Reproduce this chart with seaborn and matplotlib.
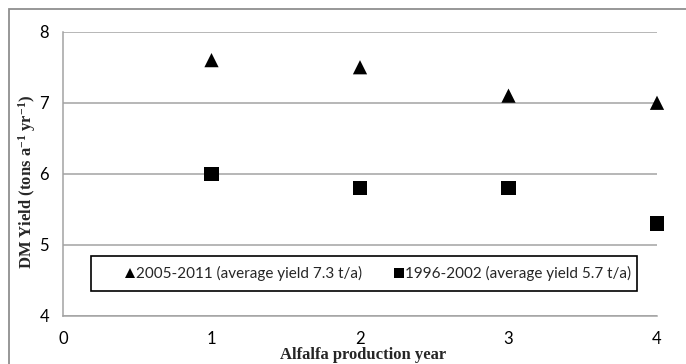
import pandas as pd
import matplotlib
matplotlib.use('Agg')
import matplotlib.pyplot as plt
from matplotlib.patches import Rectangle
import seaborn as sns

# values
years = [1, 2, 3, 4]
yield_recent = [7.6, 7.5, 7.1, 7.0]
yield_older = [6.0, 5.8, 5.8, 5.3]
series_names = ['2005-2011 (average yield 7.3 t/a)',
                '1996-2002 (average yield 5.7 t/a)']
x_ticks = [0, 1, 2, 3, 4]
y_ticks = [4, 5, 6, 7, 8]

df = pd.DataFrame({
    'year': years + years,
    'yield': yield_recent + yield_older,
    'series': [series_names[0]] * len(years) + [series_names[1]] * len(years),
})

sns.set_style('white')
plt.rcParams['font.family'] = ['Lato', 'DejaVu Sans']
plt.rcParams['mathtext.fontset'] = 'custom'
plt.rcParams['mathtext.rm'] = 'Liberation Serif:bold'
plt.rcParams['mathtext.it'] = 'Liberation Serif:bold'
plt.rcParams['mathtext.bf'] = 'Liberation Serif:bold'
plt.rcParams['axes.unicode_minus'] = False

W, H = 686, 364
fig = plt.figure(figsize=(W / 100, H / 100), dpi=100)
ax = fig.add_axes([63 / W, 1 - 316 / H, (657 - 63) / W, (316 - 31.7) / H])

grey = '#a3a3a3'
ax.set_axisbelow(True)
ax.yaxis.grid(True, color=grey, linewidth=1.1)

sns.scatterplot(data=df, x='year', y='yield', style='series',
                markers={series_names[0]: '^', series_names[1]: 's'},
                color='black', s=105, edgecolor='black', linewidth=0,
                clip_on=False, zorder=3, ax=ax)

ax.set_xlim(0, 4)
ax.set_ylim(4, 8)
ax.set_xticks(x_ticks)
ax.set_yticks(y_ticks)
for s in ['top', 'right']:
    ax.spines[s].set_visible(False)
for s in ['left', 'bottom']:
    ax.spines[s].set_color(grey)
    ax.spines[s].set_linewidth(1.1)
ax.tick_params(axis='both', colors=grey, labelcolor='black', labelsize=12,
               direction='out', length=4, width=1.1)
ax.tick_params(axis='y', pad=6)
ax.tick_params(axis='x', pad=7)

ax.set_xlabel('')
ax.set_ylabel('')
fig.text(363 / W, 1 - 355 / H, 'Alfalfa production year', family='Liberation Serif',
         weight='bold', fontsize=12, ha='center', va='center')
fig.text(27 / W, 1 - 182 / H, 'DM Yield (tons a$^{-1}$ yr$^{-1}$)', family='Liberation Serif',
         weight='bold', fontsize=12, ha='center', va='center', rotation=90)

# legend
handles, labels = ax.get_legend_handles_labels()
ax.get_legend().remove()
ax.legend(handles, labels, ncol=2, frameon=False, loc='center left',
          bbox_to_anchor=(124 / W, 1 - 273.5 / H), bbox_transform=fig.transFigure,
          borderpad=0, borderaxespad=0, handlelength=0.8, handletextpad=0.0,
          columnspacing=2.0, markerscale=0.65, fontsize=11)
fig.patches.append(Rectangle((91 / W, 1 - 291 / H), 546 / W, 35 / H,
                             transform=fig.transFigure, fill=False,
                             edgecolor='black', linewidth=1.2))

# outer chart border
fig.patches.append(Rectangle((9 / W, -0.1), 1.2, 1.1 - 9 / H,
                             transform=fig.transFigure, fill=False,
                             edgecolor='#8f8f8f', linewidth=1.3))

fig.savefig('out.png', dpi=100)
